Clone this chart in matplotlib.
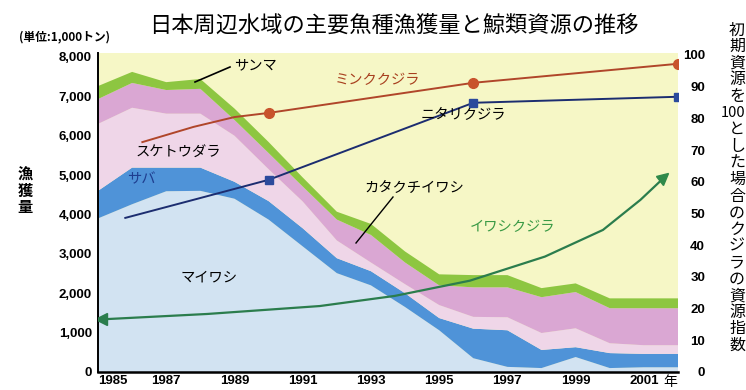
import matplotlib.pyplot as plt
from matplotlib.markers import MarkerStyle
from matplotlib.transforms import Affine2D

plt.rcParams['font.family'] = ['Noto Sans CJK JP', 'DejaVu Sans']

# 漁獲量 (1,000トン)
years = [1985, 1986, 1987, 1988, 1989, 1990, 1991, 1992, 1993,
         1994, 1995, 1996, 1997, 1998, 1999, 2000, 2001, 2002]
maiwashi = [3900, 4260, 4590, 4600, 4400, 3870, 3190, 2510, 2200,
            1650, 1060, 350, 130, 100, 380, 100, 120, 120]
saba = [700, 930, 600, 590, 430, 470, 460, 380, 360,
        350, 310, 750, 930, 460, 250, 380, 340, 340]
suketoudara = [1700, 1520, 1370, 1370, 1170, 810, 680, 450, 220,
               230, 330, 300, 330, 430, 480, 250, 220, 220]
katakuchi = [630, 630, 600, 630, 400, 410, 380, 530, 700,
             550, 500, 750, 760, 910, 920, 890, 940, 940]
sanma = [330, 280, 200, 250, 290, 280, 230, 200, 280,
         280, 280, 310, 310, 230, 220, 250, 250, 250]

# クジラの資源指数 (初期資源=100)
minke_yr = [1986.3, 1987.8, 1989.0, 1990, 1996, 2002]
minke = [72.5, 77.3, 80.4, 81.7, 91.2, 97.2]
nitari_yr = [1985.8, 1987.8, 1990, 1996, 2002]
nitari = [48.6, 54.3, 60.6, 84.9, 86.8]
iwashi_yr = [1985.1, 1988.2, 1991.5, 1993.7, 1995.9, 1998.1, 1999.8, 2000.9, 2001.6]
iwashi = [16.6, 18.3, 20.8, 24.0, 28.8, 36.4, 44.8, 54.3, 61.4]

xlabels = [1985, 1987, 1989, 1991, 1993, 1995, 1997, 1999, 2001]
yleft = [0, 1000, 2000, 3000, 4000, 5000, 6000, 7000, 8000]
yright = [0, 10, 20, 30, 40, 50, 60, 70, 80, 90, 100]

W, H = 746, 390
fig = plt.figure(figsize=(W / 100, H / 100), dpi=100)
ax = fig.add_axes([98 / W, (H - 372) / H, (678 - 98) / W, (372 - 53) / H])
ax.set_facecolor('#f6f7c6')

ax.stackplot(years, maiwashi, saba, suketoudara, katakuchi, sanma,
             colors=['#d2e3f2', '#4f93d8', '#efd6e8', '#daa7d3', '#8dc641'],
             linewidth=0)
ax.set_xlim(1985, 2002)
ax.set_ylim(0, 8100)

num = dict(family=['Liberation Sans'], fontsize=9.5, fontweight='bold')
ax.set_yticks(yleft)
ax.set_yticklabels([f'{v:,}' for v in yleft], **num)
ax.set_xticks(xlabels)
ax.set_xticklabels([str(v) for v in xlabels], **num)
ax.get_xticklabels()[0].set_ha('left')
ax.tick_params(length=0)
ax.tick_params(axis='y', pad=4.5)
ax.tick_params(axis='x', pad=2.5)
for s in ['top', 'right']:
    ax.spines[s].set_visible(False)
ax.spines['left'].set_linewidth(1.4)
ax.spines['bottom'].set_linewidth(1.8)

ax2 = ax.twinx()
ax2.set_ylim(0, 100.6)
ax2.set_yticks(yright)
ax2.set_yticklabels([str(v) for v in yright], **num)
for t in ax2.get_yticklabels():
    t.set_ha('right')
ax2.tick_params(length=0, pad=19.5)
for s in ax2.spines.values():
    s.set_visible(False)

ax2.plot(minke_yr, minke, color='#b0462a', lw=1.4)
ax2.plot(minke_yr[3:], minke[3:], 'o', color='#c8532c', ms=7)
ax2.plot(nitari_yr, nitari, color='#1c2d70', lw=1.4)
ax2.plot(nitari_yr[2:], nitari[2:], 's', color='#2b4a9c', ms=6)
ax2.plot(iwashi_yr, iwashi, color='#2b7d4d', lw=1.6)
ax2.plot(iwashi_yr[0], iwashi[0], '<', color='#2b7d4d', ms=8)
tip = MarkerStyle('^', transform=Affine2D().rotate_deg(-50))
ax2.plot(iwashi_yr[-1], iwashi[-1], marker=tip, color='#2f8a4a', ms=8, ls='none')


def px(x, y):
    return x / W, 1 - y / H


lab = dict(fontsize=10.3, ha='center', va='center')
fig.text(*px(255, 65), 'サンマ', **lab)
fig.text(*px(378, 80), 'ミンククジラ', color='#a8401f', **lab)
fig.text(*px(463, 115), 'ニタリクジラ', **lab)
fig.text(*px(178, 153), 'スケトウダラ', **lab)
fig.text(*px(141, 179), 'サバ', color='#1e3d8f', **lab)
fig.text(*px(414, 188), 'カタクチイワシ', **lab)
fig.text(*px(513, 227), 'イワシクジラ', color='#3a9a45', **lab)
fig.text(*px(209, 278), 'マイワシ', **lab)

# 引き出し線
fig.add_artist(plt.Line2D([195 / W, 230 / W], [1 - 82 / H, 1 - 67 / H],
                          color='black', lw=1.2))
fig.add_artist(plt.Line2D([356 / W, 393 / W], [1 - 243 / H, 1 - 197 / H],
                          color='black', lw=1.0))

fig.text(*px(394, 25), '日本周辺水域の主要魚種漁獲量と鯨類資源の推移',
         fontsize=16, ha='center', va='center')
fig.text(*px(64, 37), '(単位:1,000トン)', fontsize=8.5, fontweight='bold',
         ha='center', va='center')
fig.text(*px(670, 382), '年', fontsize=10, ha='center', va='center')

for i, ch in enumerate('漁獲量'):
    fig.text(*px(25, 175 + i * 16), ch, fontsize=11, fontweight='bold',
             ha='center', va='center')

right = ['初', '期', '資', '源', 'を', '100', 'と', 'し', 'た', '場',
         '合', 'の', 'ク', 'ジ', 'ラ', 'の', '資', '源', '指', '数']
for i, ch in enumerate(right):
    if ch == '100':
        fig.text(*px(733, 30 + i * 16.6), ch, fontsize=10.5,
                 ha='center', va='center')
    else:
        fig.text(*px(737, 30 + i * 16.6), ch, fontsize=11.5,
                 ha='center', va='center')

fig.savefig('out.png', dpi=100)
